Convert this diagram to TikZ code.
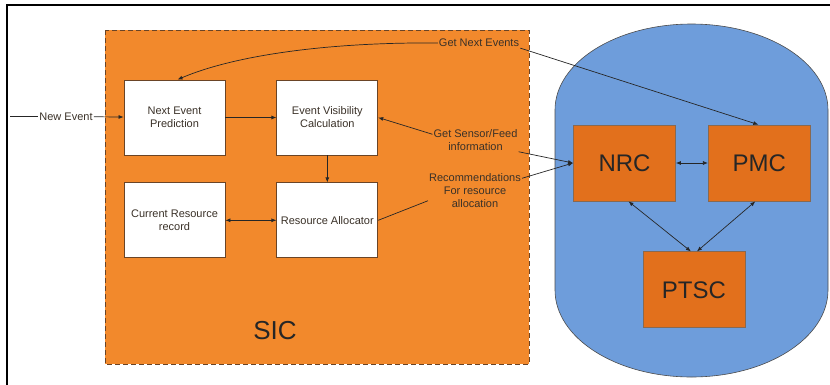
\documentclass[tikz,border=0pt]{standalone}
\usepackage{fontspec}
\setmainfont{Liberation Sans}
\usetikzlibrary{arrows.meta,positioning}
\definecolor{sicorange}{HTML}{F2892C}
\definecolor{ctrorange}{HTML}{E2701C}
\definecolor{poolblue}{HTML}{6E9DDB}
\definecolor{edgebrown}{HTML}{6A4426}
\definecolor{txtdark}{HTML}{3A3128}
\tikzset{
  procbox/.style={draw=edgebrown, fill=white, line width=0.8pt, align=center, minimum width=101pt, minimum height=75pt, inner sep=2pt, text=txtdark, font=\fontsize{11}{13}\selectfont},
  ctrbox/.style={draw=edgebrown!80, fill=ctrorange, line width=0.8pt, minimum width=102pt, minimum height=76pt, text=black!85, font=\fontsize{24}{28}\selectfont},
  lbl/.style={align=center, inner sep=1pt, text=txtdark, font=\fontsize{11}{13}\selectfont},
  arrow/.style={-{Latex[length=5pt,width=4pt]}, line width=0.7pt, draw=black!85},
  biarrow/.style={{Latex[length=5pt,width=4pt]}-{Latex[length=5pt,width=4pt]}, line width=0.7pt, draw=black!85},
  plain/.style={line width=0.7pt, draw=black!85}
}

\begin{document}
\begin{tikzpicture}[x=1pt, y=-1pt, node distance=27pt and 51pt]
  \useasboundingbox (0,0) rectangle (830,384);
  % outer frame, cut by the page on the right and bottom
  \draw[line width=1.5pt] (7,395) -- (7,5) -- (840,5);

  % SIC area
  \draw[fill=sicorange, draw=edgebrown, line width=1pt, dash pattern=on 5pt off 3pt] (105,30) rectangle (529,364);
  \node[font=\fontsize{26}{30}\selectfont, text=black!85] (sic) at (275,331) {SIC};

  % controller pool
  \draw[fill=poolblue, draw=black!70, line width=0.6pt]
    (555,290) -- (555,110) arc[start angle=180, end angle=360, x radius=136.5, y radius=86]
    -- (828,290) arc[start angle=0, end angle=180, x radius=136.5, y radius=87] -- cycle;

  \node[procbox] (nep) at (174.5,117.5) {Next Event\\Prediction};
  \node[procbox, right=of nep] (evc) {Event Visibility\\Calculation};
  \node[procbox, below=of evc] (ra) {Resource Allocator};
  \node[procbox, below=of nep] (crr) {Current Resource\\record};

  \node[ctrbox] (nrc) at (624.5,163) {NRC};
  \node[ctrbox, right=32pt of nrc] (pmc) {PMC};
  \node[ctrbox, below=50pt of nrc.south east, xshift=18pt, anchor=north] (ptsc) {PTSC};

  \coordinate (newin) at (10,116.5);
  \node[lbl, fill=white] (newev) at (66,116.5) {New Event};
  \node[lbl] (gne) at (479,43) {Get Next Events};
  \node[lbl] (gsf) at (475.5,140) {Get Sensor/Feed\\information};
  \node[lbl] (rec) at (475,190.5) {Recommendations\\For resource\\allocation};

  \draw[plain] (newin) -- (newev);
  \draw[arrow] (newev) -- (nep);
  \draw[arrow] (nep) -- (evc);
  \draw[arrow] (evc) -- (ra);
  \draw[biarrow] (crr) -- (ra);

  \draw[arrow] (gne.west) .. controls (330,42) and (235,55) .. ([xshift=3pt]nep.north);
  \draw[arrow] (gne.south east) -- ([xshift=-1pt]pmc.north);
  \draw[arrow] ([yshift=-6pt]gsf.north west) -- (evc.east);
  \draw[arrow] (gsf.south east) -- (nrc.west);
  \draw[plain] (ra.east) -- ([yshift=8pt]rec.south west);
  \draw[arrow] ([yshift=-6pt]rec.north east) -- (nrc.west);

  \draw[biarrow] (nrc) -- (pmc);
  \draw[biarrow] ([xshift=4pt]nrc.south) -- ([xshift=-3pt]ptsc.north);
  \draw[biarrow] ([xshift=-4pt]pmc.south) -- ([xshift=3pt]ptsc.north);
\end{tikzpicture}
\end{document}
